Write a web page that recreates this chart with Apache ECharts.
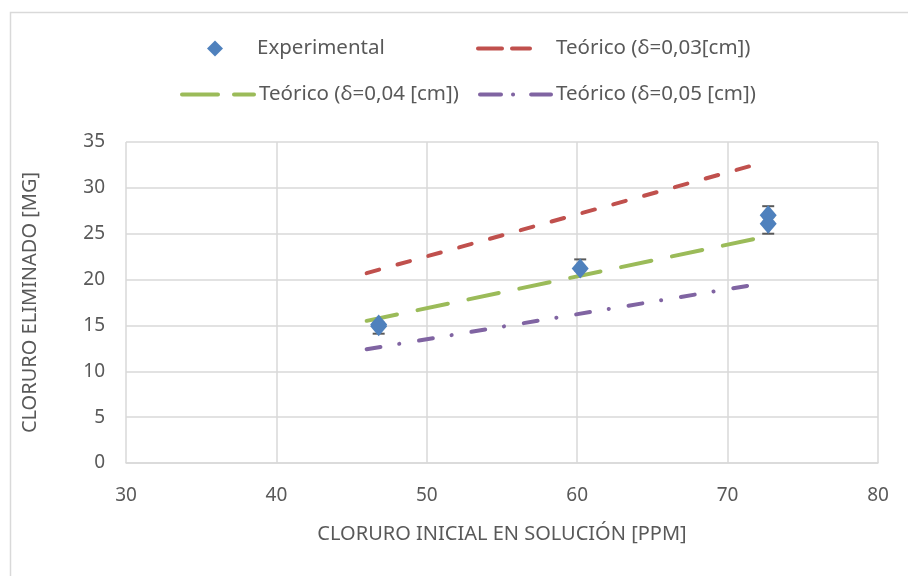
<!DOCTYPE html>
<html>
<head>
<meta charset="utf-8">
<script src="https://cdn.jsdelivr.net/npm/echarts@6/dist/echarts.min.js"></script>
<style>
  html, body { margin: 0; padding: 0; background: #fff; }
  #chart { width: 908px; height: 576px; }
</style>
</head>
<body>
<div id="chart"></div>
<script>
// Measured chloride removal (mg) vs. initial chloride concentration (ppm)
const expX = [46.8, 46.8, 60.2, 72.7, 72.7];
const expY = [15.1, 14.9, 21.2, 27.0, 26.1];
// error bar extents below / above each measurement
const expErrLow = [0.2, 0.8, 0.2, 0.2, 1.1];
const expErrHigh = [0.2, 0.2, 1.0, 1.0, 0.2];

// Theoretical curves for three boundary-layer thicknesses
const theoX = [46, 72];
const theo003 = [20.7, 32.6];
const theo004 = [15.5, 24.5];
const theo005 = [12.4, 19.5];

const seriesNames = [
  'Experimental',
  'Teórico (δ=0,03[cm])',
  'Teórico (δ=0,04 [cm])',
  'Teórico (δ=0,05 [cm])'
];

const xTicks = { min: 30, max: 80, interval: 10 };
const yTicks = { min: 0, max: 35, interval: 5 };

const FONT = '"Noto Sans", sans-serif';
const GREY_TEXT = '#595959';
const GRID_LINE = '#d9d9d9';

const RED = '#c0504d';
const GREEN = '#9bbb59';
const PURPLE = '#8064a2';
const BLUE = '#4f81bd';

const pair = (xs, ys) => xs.map((x, i) => [x, ys[i]]);

const legendText = { color: GREY_TEXT, fontSize: 20.5, fontFamily: FONT };
const withPad = (left) => Object.assign({ padding: [0, 0, 0, left] }, legendText);
// line icons in the legend show only the stroke, no point marker
const hideMarker = { opacity: 0 };

const chart = echarts.init(document.getElementById('chart'), null, { renderer: 'canvas' });

chart.setOption({
  animation: false,
  backgroundColor: '#fff',
  graphic: [{
    type: 'rect',
    left: 8, top: 10,
    shape: { width: 1000, height: 1000 },
    style: { fill: 'none', stroke: GRID_LINE, lineWidth: 1.5 },
    silent: true, z: -10
  }],
  grid: { left: 126, right: 30, top: 142, bottom: 113 },
  legend: [
    { data: [{ name: seriesNames[0], icon: 'diamond' }], left: 207, top: 38, padding: 0,
      itemWidth: 16, itemHeight: 16, itemStyle: { opacity: 1 }, textStyle: withPad(29) },
    { data: [seriesNames[1]], left: 476, top: 38, padding: 0, itemWidth: 52, itemHeight: 14,
      itemStyle: hideMarker,
      lineStyle: { width: 4, type: [24, 10], cap: 'round' },
      textStyle: withPad(21) },
    { data: [seriesNames[2]], left: 180, top: 84, padding: 0, itemWidth: 72, itemHeight: 14,
      itemStyle: hideMarker,
      lineStyle: { width: 4, type: [36, 16], cap: 'round' },
      textStyle: legendText },
    { data: [seriesNames[3]], left: 478, top: 84, padding: 0, itemWidth: 71, itemHeight: 14,
      itemStyle: hideMarker,
      lineStyle: { width: 4, type: [21, 12, 0.1, 18, 30, 10], cap: 'round' },
      textStyle: legendText }
  ],
  xAxis: {
    type: 'value',
    min: xTicks.min, max: xTicks.max, interval: xTicks.interval,
    name: 'CLORURO INICIAL EN SOLUCIÓN [PPM]',
    nameLocation: 'middle', nameGap: 61,
    nameTextStyle: { color: GREY_TEXT, fontSize: 20, fontFamily: FONT },
    axisLine: { show: true, lineStyle: { color: GRID_LINE, width: 1.5 } },
    axisTick: { show: false },
    axisLabel: { color: GREY_TEXT, fontSize: 19, fontFamily: FONT, margin: 23 },
    splitLine: { show: true, lineStyle: { color: GRID_LINE, width: 1.5 } }
  },
  yAxis: {
    type: 'value',
    min: yTicks.min, max: yTicks.max, interval: yTicks.interval,
    name: 'CLORURO ELIMINADO [MG]',
    nameLocation: 'middle', nameGap: 86, nameRotate: 90,
    nameTextStyle: { color: GREY_TEXT, fontSize: 20, fontFamily: FONT },
    axisLine: { show: false },
    axisTick: { show: false },
    axisLabel: { color: GREY_TEXT, fontSize: 19, fontFamily: FONT, margin: 21 },
    splitLine: { show: true, lineStyle: { color: GRID_LINE, width: 1.5 } }
  },
  series: [
    {
      name: seriesNames[1], type: 'line', data: pair(theoX, theo003),
      symbol: 'none', color: RED, z: 3,
      lineStyle: { color: RED, width: 4, type: [13, 19], cap: 'round' }
    },
    {
      name: seriesNames[2], type: 'line', data: pair(theoX, theo004),
      symbol: 'none', color: GREEN, z: 3,
      lineStyle: { color: GREEN, width: 4, type: [31, 21], cap: 'round' }
    },
    {
      name: seriesNames[3], type: 'line', data: pair(theoX, theo005),
      symbol: 'none', color: PURPLE, z: 3,
      lineStyle: { color: PURPLE, width: 4, type: [14, 19, 0.1, 20], cap: 'round' }
    },
    {
      // vertical error bars with caps
      name: 'error', type: 'custom', z: 4,
      data: expX.map((x, i) => [x, expY[i] - expErrLow[i], expY[i] + expErrHigh[i]]),
      encode: { x: 0, y: [1, 2] },
      renderItem: function (params, api) {
        const lo = api.coord([api.value(0), api.value(1)]);
        const hi = api.coord([api.value(0), api.value(2)]);
        const hw = 6;
        const st = { stroke: '#595959', lineWidth: 2 };
        return {
          type: 'group',
          children: [
            { type: 'line', shape: { x1: lo[0], y1: lo[1], x2: hi[0], y2: hi[1] }, style: st },
            { type: 'line', shape: { x1: lo[0] - hw, y1: lo[1], x2: lo[0] + hw, y2: lo[1] }, style: st },
            { type: 'line', shape: { x1: hi[0] - hw, y1: hi[1], x2: hi[0] + hw, y2: hi[1] }, style: st }
          ]
        };
      }
    },
    {
      name: seriesNames[0], type: 'scatter', data: pair(expX, expY),
      symbol: 'diamond', symbolSize: [17, 20], z: 5,
      itemStyle: { color: BLUE, opacity: 1 }
    }
  ]
});
</script>
</body>
</html>
